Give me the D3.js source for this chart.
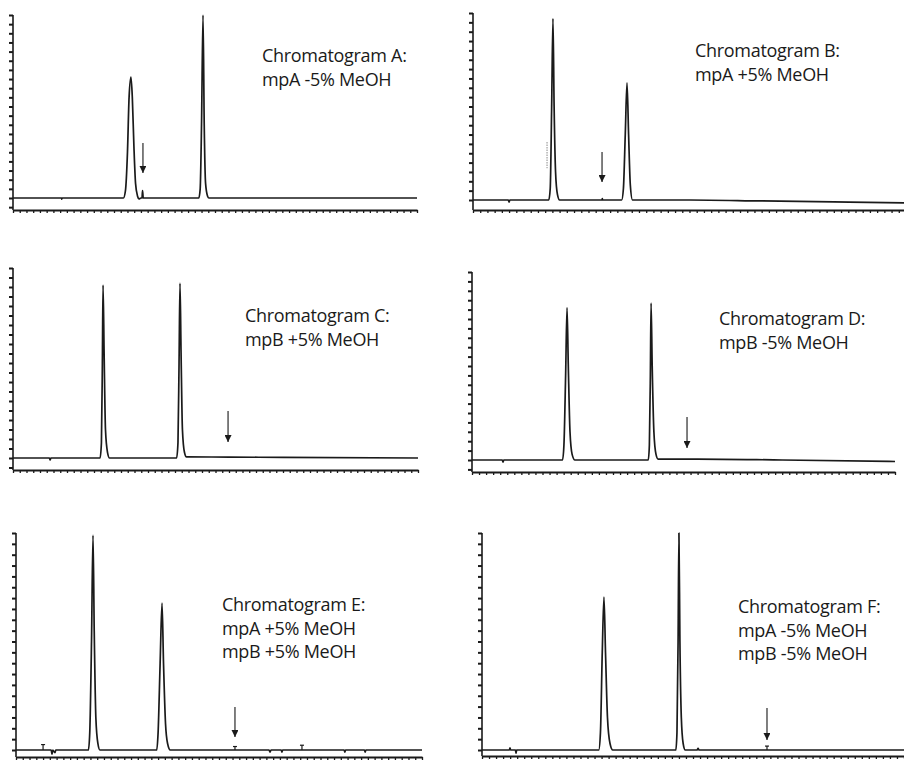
<!DOCTYPE html>
<html>
<head>
<meta charset="utf-8">
<script src="https://cdn.jsdelivr.net/npm/d3@7/dist/d3.min.js"></script>
<style>
  html, body { margin: 0; padding: 0; background: #fff; }
  svg { display: block; }
  text { font-family: "Open Sans", "Noto Sans", sans-serif; }
</style>
</head>
<body>
<svg id="chart" width="904" height="766"></svg>
<script>
// ---------------- DATA ----------------
const panelNames = ["A", "B", "C", "D", "E", "F"];

const labelLines = [
  ["Chromatogram A:", "mpA -5% MeOH"],
  ["Chromatogram B:", "mpA +5% MeOH"],
  ["Chromatogram C:", "mpB +5% MeOH"],
  ["Chromatogram D:", "mpB -5% MeOH"],
  ["Chromatogram E:", "mpA +5% MeOH", "mpB +5% MeOH"],
  ["Chromatogram F:", "mpA -5% MeOH", "mpB -5% MeOH"]
];

// traces: [retention time (min), relative signal (%)]
const traceA = [[0,0],[3.6,0],[3.62,-0.6],[3.66,0],[8.2,0],[8.35,4],[8.5,25],[8.62,55],[8.76,66],[8.86,55],[8.98,28],
  [9.1,8],[9.25,1],[9.35,-0.5],[9.5,0],[9.58,0],[9.62,4],[9.67,0],[13.8,0],[13.9,5],[14.0,40],[14.11,100],[14.2,40],
  [14.3,8],[14.45,1],[14.55,0],[30,0]];
const traceB = [[0,0],[2.45,0],[2.5,-1.2],[2.55,0],[5.1,0],[5.25,0],[5.35,6],[5.45,50],[5.54,97],[5.62,50],[5.72,15],
  [5.85,3],[6.0,0],[8.94,0],[8.96,0.8],[8.98,0],[10.3,0],[10.42,6],[10.55,35],[10.67,62.6],[10.78,35],[10.9,8],
  [11.05,0],[15,0],[20,-0.5],[25,-1],[30,-1.6]];
const traceC = [[0,0],[2.7,0],[2.75,-1],[2.8,0],[6.45,0],[6.55,8],[6.62,50],[6.67,91],[6.75,55],[6.85,15],[7.0,3],
  [7.15,0],[12.12,0],[12.22,8],[12.3,50],[12.37,92],[12.45,55],[12.55,15],[12.7,3],[12.85,0.6],[16,0.5],[20,0.3],[30,0]];
const traceD = [[0,0],[2.15,0],[2.2,-1.2],[2.25,0],[6.42,0],[6.52,8],[6.64,45],[6.74,81],[6.83,50],[6.95,15],[7.1,3],
  [7.3,0],[12.5,0],[12.58,8],[12.65,45],[12.7,83.5],[12.78,50],[12.9,15],[13.05,3],[13.2,0.5],[16,0.5],[22,0],[30,-0.8]];
const traceE = [[0,0],[2.6,0],[2.66,-2],[2.72,0],[2.88,-1.2],[2.94,0],[5.35,0],[5.45,8],[5.58,50],[5.69,99],[5.78,55],
  [5.9,15],[6.05,3],[6.2,0],[10.4,0],[10.5,8],[10.65,40],[10.79,67.7],[10.9,40],[11.05,12],[11.2,3],[11.4,0],
  [18.7,0],[18.77,-1],[18.84,0],[19.6,0],[19.65,-1],[19.7,0],[24.25,0],[24.3,-1],[24.35,0],[25.75,0],[25.8,-1],
  [25.85,0],[30,0]];
const traceF = [[0,0],[1.95,0],[1.99,1],[2.03,0],[2.38,0],[2.42,-1.5],[2.46,0],[8.3,0],[8.42,8],[8.55,45],[8.67,70.5],
  [8.78,45],[8.92,15],[9.1,3],[9.3,0],[13.78,0],[13.86,8],[13.94,50],[14.0,100],[14.07,50],[14.17,15],[14.3,3],
  [14.45,0],[15.3,0],[15.36,0.8],[15.42,0],[30,0]];
const traces = [traceA, traceB, traceC, traceD, traceE, traceF];

// small integration markers above the baseline: [time, height]
const markersA = [];
const markersB = [];
const markersC = [];
const markersD = [];
const markersE = [[2.0, 2.5], [16.18, 1.6], [21.13, 2.2]];
const markersF = [[20.26, 1.8]];
const markers = [markersA, markersB, markersC, markersD, markersE, markersF];

// downward arrows marking the expected position
const arrowTimes = [9.65, 8.94, 15.93, 15.25, 16.18, 20.26];
const arrowTops  = [30, 25.7, 24.7, 22.9, 19.8, 19.4];
const arrowTips  = [13.7, 9.6, 8.4, 6.4, 6.0, 4.6];

// faint dotted artefact line in chromatogram B: [time, from, to]
const artefactB = [5.13, 17, 31];

const timeDomain = [0, 30];
const signalDomain = [0, 100];
const yTickValues = [-5, 0, 5, 10, 15, 20, 25, 30, 35, 40, 45, 50, 55, 60, 65, 70, 75, 80, 85, 90, 95, 100];
const xTickValues = d3.range(0, 30.01, 0.5);

// ---------------- LAYOUT ----------------
const layout = [
  { x0: 13,  x1: 417, top: 15,  base: 198, axisY: 210, textX: 262, textY: 62 },
  { x0: 473, x1: 906, top: 13,  base: 200, axisY: 210, textX: 695, textY: 57 },
  { x0: 13,  x1: 418, top: 268, base: 458, axisY: 470, textX: 245, textY: 322 },
  { x0: 472, x1: 895, top: 272, base: 460, axisY: 472, textX: 719, textY: 325 },
  { x0: 16,  x1: 422, top: 533, base: 750, axisY: 757, textX: 222, textY: 611 },
  { x0: 482, x1: 904, top: 533, base: 750, axisY: 756, textX: 738, textY: 613 }
];
const lineHeight = 23.5;
const ink = "#1a1a1a";

const svg = d3.select("#chart");

svg.append("defs").append("marker")
  .attr("id", "head")
  .attr("viewBox", "0 0 10 10")
  .attr("refX", 10).attr("refY", 5)
  .attr("markerWidth", 7).attr("markerHeight", 7)
  .attr("markerUnits", "userSpaceOnUse")
  .attr("orient", "auto")
  .append("path")
  .attr("d", "M0,0 L10,5 L0,10 Z")
  .attr("fill", ink);

panelNames.forEach((name, i) => {
  const L = layout[i];
  const g = svg.append("g").attr("class", "panel panel-" + name);

  const x = d3.scaleLinear().domain(timeDomain).range([L.x0, L.x1]);
  const y = d3.scaleLinear().domain(signalDomain).range([L.base, L.top]);

  // Y axis (left, dense minor ticks, no labels)
  const yTicks = yTickValues.filter(v => y(v) <= L.axisY - 2);
  const yAxis = d3.axisLeft(y).tickValues(yTicks).tickSize(4).tickSizeOuter(0).tickFormat("");
  const ya = g.append("g").attr("transform", `translate(${L.x0},0)`).call(yAxis);
  ya.select(".domain").remove();
  ya.selectAll(".tick line").attr("stroke", ink).attr("stroke-width", 2);
  g.append("line")
    .attr("x1", L.x0).attr("x2", L.x0)
    .attr("y1", y(100)).attr("y2", L.axisY)
    .attr("stroke", ink).attr("stroke-width", 1.6);

  // X axis (bottom, dense minor ticks, no labels)
  const xAxis = d3.axisBottom(x).tickValues(xTickValues).tickSize(3).tickSizeOuter(0).tickFormat("");
  const xa = g.append("g").attr("transform", `translate(0,${L.axisY})`).call(xAxis);
  xa.select(".domain").attr("stroke", ink).attr("stroke-width", 2);
  xa.selectAll(".tick line").attr("stroke", ink).attr("stroke-width", 1.3);

  // trace
  const line = d3.line()
    .x(d => x(d[0]))
    .y(d => y(d[1]))
    .curve(d3.curveMonotoneX);
  g.append("path")
    .datum(traces[i])
    .attr("d", line)
    .attr("fill", "none")
    .attr("stroke", ink)
    .attr("stroke-width", 1.7)
    .attr("stroke-linejoin", "round");

  // small markers
  g.selectAll(".mk").data(markers[i]).enter().append("line")
    .attr("class", "mk")
    .attr("x1", d => x(d[0])).attr("x2", d => x(d[0]))
    .attr("y1", y(0)).attr("y2", d => y(d[1]))
    .attr("stroke", ink).attr("stroke-width", 1.2);
  g.selectAll(".mkc").data(markers[i]).enter().append("line")
    .attr("class", "mkc")
    .attr("x1", d => x(d[0]) - 2).attr("x2", d => x(d[0]) + 2)
    .attr("y1", d => y(d[1])).attr("y2", d => y(d[1]))
    .attr("stroke", ink).attr("stroke-width", 1.2);

  // arrow
  g.append("line")
    .attr("x1", x(arrowTimes[i])).attr("x2", x(arrowTimes[i]))
    .attr("y1", y(arrowTops[i])).attr("y2", y(arrowTips[i]))
    .attr("stroke", "#2a2a2a").attr("stroke-width", 1.2)
    .attr("marker-end", "url(#head)");

  // artefact in B
  if (name === "B") {
    g.append("line")
      .attr("x1", x(artefactB[0])).attr("x2", x(artefactB[0]))
      .attr("y1", y(artefactB[2])).attr("y2", y(artefactB[1]))
      .attr("stroke", "#888").attr("stroke-width", 1)
      .attr("stroke-dasharray", "1.5,1");
  }

  // label
  const t = g.append("text")
    .attr("x", L.textX).attr("y", L.textY)
    .attr("font-size", 18).attr("fill", "#1a1a1a")
    .attr("letter-spacing", -0.3);
  labelLines[i].forEach((s, k) => {
    t.append("tspan").attr("x", L.textX).attr("y", L.textY + k * lineHeight).text(s);
  });
});
</script>
</body>
</html>
